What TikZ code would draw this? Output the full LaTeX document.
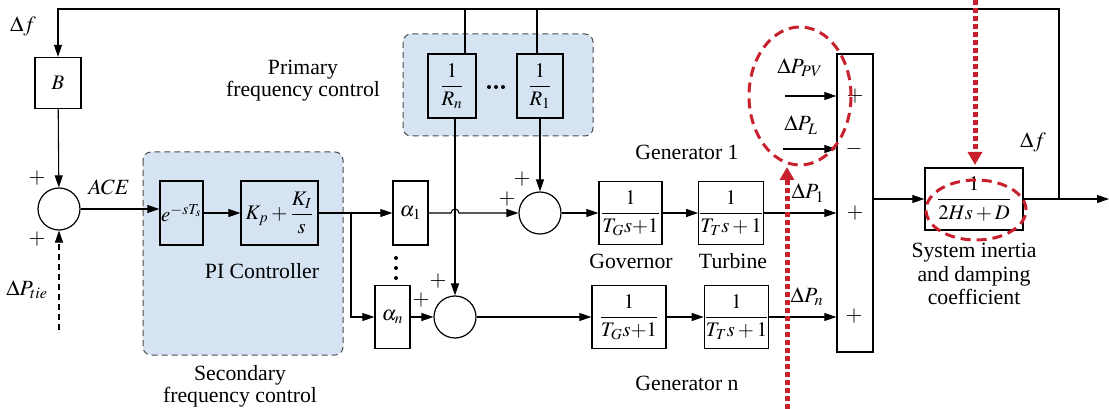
\documentclass[tikz,border=0pt]{standalone}
\usepackage{amsmath}
\usepackage{mathptmx}
\usepackage{fontspec}
\setmainfont{Liberation Serif}
\newfontfamily\tnrfont{Liberation Serif}
\usetikzlibrary{arrows.meta}
\definecolor{pfill}{RGB}{213,227,242}
\definecolor{redd}{RGB}{200,32,44}
\begin{document}
\begin{tikzpicture}[x=0.75pt,y=-0.75pt, font=\tnrfont\fontsize{16.3}{19}\selectfont,
  blk/.style={draw, line width=1.0pt, inner sep=0pt, font=\tnrfont\fontsize{15.5}{18}\selectfont},
  sumc/.style={draw, circle, line width=0.9pt, minimum size=31.5pt, inner sep=0pt},
  arr/.style={line width=0.8pt, -{Triangle[length=9pt,width=6pt]}},
  ln/.style={line width=0.8pt},
  region/.style={fill=pfill, draw=black!70, dash pattern=on 4.5pt off 3pt, line width=0.75pt, rounded corners=6pt},
  lbl/.style={inner sep=0pt},
  dotmark/.style={fill=black},
  redell/.style={draw=redd, line width=2.25pt, dash pattern=on 7.5pt off 4.5pt},
  redarr/.style={draw=redd, line width=3.75pt, dash pattern=on 3.75pt off 2.25pt, -{Triangle[length=9.75pt,width=10.5pt,fill=redd]}}]
\useasboundingbox (0,0) rectangle (1109,409);

% shaded regions
\draw[region] (143,152) rectangle (343,355);
\draw[region] (403,34) rectangle (593,136);

% blocks
\node[blk, minimum width=34.5pt, minimum height=38.25pt] (B) at (58,83) {$B$};
\node[sumc] (s0) at (59,209) {};
\node[blk, minimum width=32.25pt, minimum height=48pt] (E) at (181.5,213) {$e^{-sT_s}$};
\node[blk, minimum width=57.75pt, minimum height=48pt] (K) at (279.5,213) {$K_p+\dfrac{K_I}{s}$};
\node[blk, minimum width=26.25pt, minimum height=48pt] (A1) at (410.5,213) {$\alpha_1$};
\node[blk, minimum width=26.25pt, minimum height=47.25pt] (An) at (392.5,317) {$\alpha_n$};
\node[blk, minimum width=36pt, minimum height=48pt] (Rn) at (452,86) {$\dfrac{1}{R_n}$};
\node[blk, minimum width=34.5pt, minimum height=48pt] (R1) at (540,86) {$\dfrac{1}{R_1}$};
\node[sumc] (s1) at (540,213) {};
\node[sumc] (s2) at (455,317) {};
\node[blk, minimum width=47.25pt, minimum height=47.25pt] (G1) at (630.5,213) {$\dfrac{1}{T_G s{+}1}$};
\node[blk, minimum width=48pt, minimum height=47.25pt] (T1) at (731,213) {$\dfrac{1}{T_T s+1}$};
\node[blk, minimum width=55.5pt, minimum height=47.25pt] (Gn) at (629,317) {$\dfrac{1}{T_G s{+}1}$};
\node[blk, minimum width=47.25pt, minimum height=47.25pt] (Tn) at (736.5,317) {$\dfrac{1}{T_T s+1}$};
\node[blk, minimum width=27pt, minimum height=223.5pt] (S) at (855,203) {};
\node[blk, minimum width=73.5pt, minimum height=46.5pt] (H) at (974,199) {$\dfrac{1}{2Hs+D}$};

% coordinates
\coordinate (fb) at (1059,199);
\coordinate (out) at (1109,199);
\coordinate (top) at (1059,9);
\coordinate (tie) at (59,330);
\coordinate (br) at (351,213);
\coordinate (pv) at (785,96);
\coordinate (pl) at (783,149);

% connectors
\draw[arr] (H.east) -- (out);
\draw[arr] (fb) -- (top) -- (B.north |- top) -- (B.north);
\draw[ln] ([xshift=9.75pt]Rn.north) -- ([xshift=9.75pt]Rn.north |- top);
\draw[ln] ([xshift=-2.25pt]R1.north) -- ([xshift=-2.25pt]R1.north |- top);
\draw[arr] (B) -- (s0);
\draw[arr, dash pattern=on 4.5pt off 3pt] (tie) -- (s0.south);
\draw[arr] (s0.east) -- (s0.east -| E.west);
\draw[arr] (E) -- (K);
\draw[arr] (K) -- (A1);
\draw[arr] (br) |- (An.west);
\draw[arr] (An) -- (s2);
\draw[arr] (A1.east) -- ([xshift=-3pt]s2.north |- A1.east) arc[start angle=180, end angle=0, radius=3pt] -- (s1.west);
\draw[arr] (s2.north |- Rn.south) -- (s2.north);
\draw[arr] (R1) -- (s1);
\draw[arr] (s1) -- (G1);
\draw[arr] (G1) -- (T1);
\draw[arr] (T1.east) -- (T1.east -| S.west);
\draw[arr] (s2) -- (Gn);
\draw[arr] (Gn) -- (Tn);
\draw[arr] (Tn.east) -- (Tn.east -| S.west);
\draw[arr] (S.east |- H.west) -- (H.west);
\draw[arr] (pv) -- (pv -| S.west);
\draw[arr] (pl) -- (pl -| S.west);

% ellipsis dots
\foreach \dx in {489,496,503} \fill[dotmark] (\dx,87) circle[radius=1.5pt];
\foreach \dy in {258,268,278} \fill[dotmark] (396,\dy) circle[radius=1.5pt];

% labels
\node[lbl] (lf1) at (23,26) {$\Delta f$};
\node[lbl] (p01) at (37,178) {$+$};
\node[lbl] (p02) at (37,239) {$+$};
\node[lbl] (ltie) at (27,290) {$\Delta P_{tie}$};
\node[lbl] (lace) at (109,187) {$ACE$};
\node[lbl] (lpi) at (262,271) {PI Controller};
\node[lbl] (lsec1) at (240,375) {Secondary};
\node[lbl] (lsec2) at (240,397) {frequency control};
\node[lbl] (lpri1) at (303,70) {Primary};
\node[lbl] (lpri2) at (303,91) {frequency control};
\node[lbl] (p11) at (522,179) {$+$};
\node[lbl] (p12) at (507,199) {$+$};
\node[lbl] (p21) at (438,281) {$+$};
\node[lbl] (p22) at (421,300) {$+$};
\node[lbl] (lg1) at (687,152) {Generator 1};
\node[lbl] (lgn) at (687,383) {Generator n};
\node[lbl] (lgov) at (631,261) {Governor};
\node[lbl] (ltur) at (733,261) {Turbine};
\node[lbl] (lpv) at (800,68) {$\Delta P_{PV}$};
\node[lbl] (lpl) at (801,125) {$\Delta P_L$};
\node[lbl] (lp1) at (808,193) {$\Delta P_1$};
\node[lbl] (lpn) at (807,297) {$\Delta P_n$};
\node[lbl] (sg1) at (855,96) {$+$};
\node[lbl] (sg2) at (854,149) {$-$};
\node[lbl] (sg3) at (855,213) {$+$};
\node[lbl] (sg4) at (854,316) {$+$};
\node[lbl] (lf2) at (1033,142) {$\Delta f$};
\node[lbl] (lsys1) at (974,253) {System inertia};
\node[lbl] (lsys2) at (974,276) {and damping};
\node[lbl] (lsys3) at (974,297) {coefficient};

% red highlights
\coordinate (rt0) at (975,0);
\coordinate (rt1) at (975,165);
\coordinate (rb0) at (787,409);
\coordinate (rb1) at (787,167);
\draw[redell] (800,96) ellipse [x radius=38.25pt, y radius=51.75pt];
\draw[redell] (976,210) ellipse [x radius=37.5pt, y radius=22.5pt];
\draw[redarr] (rt0) -- (rt1);
\draw[redarr] (rb0) -- (rb1);
\end{tikzpicture}
\end{document}
